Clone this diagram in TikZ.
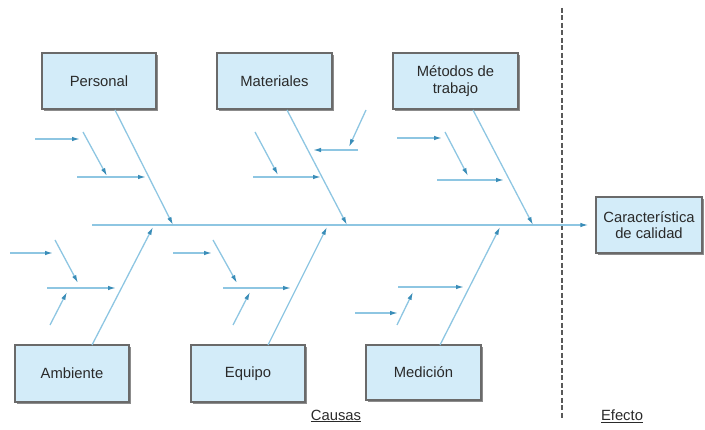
\documentclass[tikz,border=0pt]{standalone}
\usepackage{fontspec}
\setmainfont{Liberation Sans}
\usetikzlibrary{arrows.meta}
\definecolor{bone}{HTML}{8EC6E2}
\definecolor{tipc}{HTML}{3A8DB8}
\definecolor{boxfill}{HTML}{D3ECF9}
\definecolor{boxline}{HTML}{6A6A6A}
\definecolor{txt}{HTML}{2A2A2A}
\begin{document}
\begin{tikzpicture}[x=1pt,y=-1pt,
  cause/.style={draw=boxline,line width=1.3pt,fill=boxfill,minimum width=114pt,minimum height=56pt,
    font=\fontsize{14.8}{16.5}\selectfont,text=txt,align=center,inner sep=2pt},
  bonel/.style={draw=bone,line width=1.3pt,-{Latex[length=8pt,width=4.5pt,color=tipc]}},
  lbl/.style={font=\fontsize{14.8}{16}\selectfont,text=txt}]
\useasboundingbox (0,0) rectangle (705,430);
% shadows
\fill[black!45] (44,55) rectangle (158,111);
\fill[black!45] (219,55) rectangle (334,111);
\fill[black!45] (395,55) rectangle (520,111);
\fill[black!45] (598,199) rectangle (704,255);
\fill[black!45] (17,347) rectangle (131,404);
\fill[black!45] (193,347) rectangle (307,404);
\fill[black!45] (368,347) rectangle (483,402);
% boxes
\node[cause] (pers) at (99,81) {Personal};
\node[cause,minimum width=115pt] (mat) at (274.5,81) {Materiales};
\node[cause,minimum width=125pt] (met) at (455.5,81) {Métodos de\\trabajo};
\node[cause,minimum width=106pt] (car) at (649,225) {Característica\\de calidad};
\node[cause,minimum height=57pt] (amb) at (72,373.5) {Ambiente};
\node[cause,minimum height=57pt] (equ) at (248,373.5) {Equipo};
\node[cause,minimum width=115pt,minimum height=55pt] (med) at (423.5,372.5) {Medición};
% dashed divider
\coordinate (dtop) at (562,8);
\coordinate (dbot) at (562,420);
\draw[black!65,line width=2pt,dash pattern=on 5pt off 2.5pt] (dtop) -- (dbot);
% spine
\coordinate (s0) at (92,225);
\draw[bonel,shorten >=7pt] (s0) -- (car.west);
% main bones
\coordinate (pb) at (115,110); \coordinate (pe) at (173,225);
\coordinate (mb) at (287,110); \coordinate (me) at (347,225);
\coordinate (tb) at (473,110); \coordinate (te) at (533,225);
\coordinate (ab) at (92,345); \coordinate (ae) at (153,227);
\coordinate (eb) at (268,345); \coordinate (ee) at (327,227);
\coordinate (db) at (440,345); \coordinate (de) at (500,227);
\foreach \a/\b in {pb/pe,mb/me,tb/te,ab/ae,eb/ee,db/de} \draw[bonel] (\a) -- (\b);
% Personal sub-bones
\coordinate (p1a) at (35,139); \coordinate (p1b) at (80,139);
\coordinate (p2a) at (83,132); \coordinate (p2b) at (107,176);
\coordinate (p3a) at (77,177); \coordinate (p3b) at (146,177);
\foreach \a/\b in {p1a/p1b,p2a/p2b,p3a/p3b} \draw[bonel] (\a) -- (\b);
% Materiales sub-bones
\coordinate (m1a) at (255,132); \coordinate (m1b) at (278,175);
\coordinate (m2a) at (253,177); \coordinate (m2b) at (321,177);
\coordinate (m3a) at (366,110); \coordinate (m3b) at (349,147);
\coordinate (m4a) at (358,150); \coordinate (m4b) at (313,150);
\foreach \a/\b in {m1a/m1b,m2a/m2b,m3a/m3b,m4a/m4b} \draw[bonel] (\a) -- (\b);
% Metodos sub-bones
\coordinate (t1a) at (397,138); \coordinate (t1b) at (442,138);
\coordinate (t2a) at (445,132); \coordinate (t2b) at (468,176);
\coordinate (t3a) at (437,180); \coordinate (t3b) at (504,180);
\foreach \a/\b in {t1a/t1b,t2a/t2b,t3a/t3b} \draw[bonel] (\a) -- (\b);
% Ambiente sub-bones
\coordinate (a1a) at (10,253); \coordinate (a1b) at (53,253);
\coordinate (a2a) at (55,240); \coordinate (a2b) at (78,283);
\coordinate (a3a) at (47,288); \coordinate (a3b) at (116,288);
\coordinate (a4a) at (50,325); \coordinate (a4b) at (67,292);
\foreach \a/\b in {a1a/a1b,a2a/a2b,a3a/a3b,a4a/a4b} \draw[bonel] (\a) -- (\b);
% Equipo sub-bones
\coordinate (e1a) at (173,253); \coordinate (e1b) at (212,253);
\coordinate (e2a) at (213,240); \coordinate (e2b) at (237,283);
\coordinate (e3a) at (223,288); \coordinate (e3b) at (291,288);
\coordinate (e4a) at (233,325); \coordinate (e4b) at (250,292);
\foreach \a/\b in {e1a/e1b,e2a/e2b,e3a/e3b,e4a/e4b} \draw[bonel] (\a) -- (\b);
% Medicion sub-bones
\coordinate (d1a) at (398,287); \coordinate (d1b) at (464,287);
\coordinate (d2a) at (397,325); \coordinate (d2b) at (413,292);
\coordinate (d3a) at (355,313); \coordinate (d3b) at (398,313);
\foreach \a/\b in {d1a/d1b,d2a/d2b,d3a/d3b} \draw[bonel] (\a) -- (\b);
% labels
\node[lbl] (causas) at (336,416) {\underline{Causas}};
\node[lbl] (efecto) at (622,416) {\underline{Efecto}};
\end{tikzpicture}
\end{document}
